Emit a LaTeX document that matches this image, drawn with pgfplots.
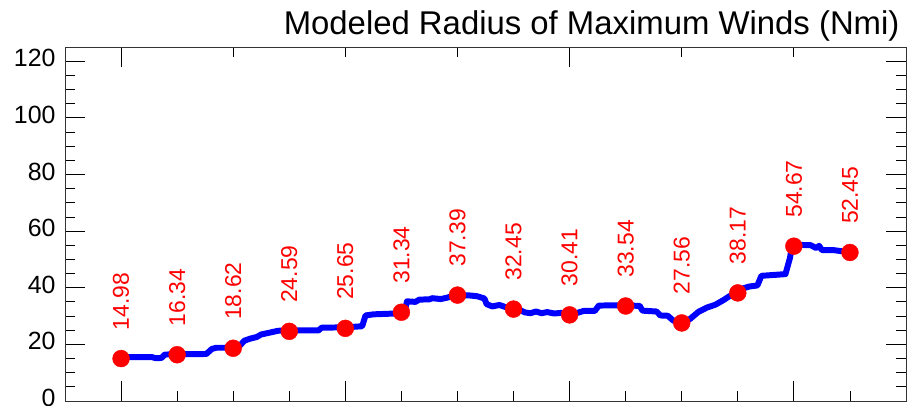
\documentclass[border=0pt]{standalone}
\usepackage{fontspec}
\setmainfont{Liberation Sans}
\usepackage{pgfplots}
\pgfplotsset{compat=1.18}

% modeled RMW track (index along forecast, nmi)
\pgfplotstableread{
x y
0 14.98
0.05 15.5
0.55 15.5
0.62 15.1
0.72 15.2
0.78 16.4
1 16.5
1.52 16.6
1.62 18.4
1.7 18.8
2 18.8
2.12 19.6
2.2 21.3
2.3 22.0
2.42 22.6
2.5 23.5
2.62 24.0
2.8 24.8
3 24.9
3.52 24.9
3.58 25.9
4 26.0
4.3 26.4
4.36 30.2
4.5 30.6
4.9 30.9
5 31.34
5.06 31.6
5.1 35.2
5.25 35.0
5.32 35.8
5.5 35.9
5.55 36.3
5.7 36.0
5.8 36.4
5.9 37.0
6 37.39
6.2 37.3
6.35 37.0
6.48 36.2
6.52 34.2
6.62 33.4
6.75 33.9
6.85 33.2
7 32.45
7.1 32.3
7.2 31.3
7.3 31.0
7.4 31.6
7.5 31.0
7.6 31.4
7.72 30.9
7.85 31.1
8 30.6
8.12 31.0
8.25 31.8
8.45 31.8
8.52 33.7
8.9 33.8
9 33.7
9.25 33.6
9.3 31.9
9.55 31.6
9.62 30.2
9.75 30.1
9.85 28.4
10 27.7
10.15 29.0
10.3 31.5
10.45 33.0
10.6 34.0
10.75 35.7
10.85 37.0
11 38.17
11.1 39.8
11.2 40.4
11.35 40.8
11.42 44.2
11.85 44.8
11.93 50.5
11.97 55.0
12 55.2
12.3 55.0
12.4 54.0
12.45 54.8
12.5 53.3
12.7 53.3
12.85 52.9
13 52.6
}\rmwline

\pgfplotstableread{
x y
0 14.98
1 16.34
2 18.62
3 24.59
4 25.65
5 31.34
6 37.39
7 32.45
8 30.41
9 33.54
10 27.56
11 38.17
12 54.67
13 52.45
}\rmwpts

\begin{document}
\begin{tikzpicture}
\path[use as bounding box] (-65bp,-5bp) rectangle (844bp,401bp);
\begin{axis}[
    name=ax,
    at={(0,0)}, anchor=south west,
    scale only axis,
    width=841bp, height=354bp,
    xmin=-1, xmax=14,
    ymin=0, ymax=125,
    axis line style={black!80, line width=0.9pt},
    xtick={0,4,8,12},
    minor xtick={1,2,3,5,6,7,9,10,11,13},
    xticklabels={},
    xtick pos=left,
    ytick={0,20,...,120},
    minor ytick={5,10,15,25,30,35,45,50,55,65,70,75,85,90,95,105,110,115},
    ytick pos=both,
    major tick length=20bp,
    minor tick length=10bp,
    tick style={black, line width=0.8pt},
    yticklabel style={font=\fontsize{25}{28}\selectfont, xshift=-6bp, yshift=3bp},
    /pgf/number format/assume math mode=true,
    clip=false,
]
\addplot[blue, line width=6pt, line join=round] table[x=x, y=y] {\rmwline};
\addplot[only marks, mark=*, mark size=8.5pt, color=red,
    nodes near coords,
    nodes near coords style={
        red, rotate=90, anchor=west, xshift=25bp,
        font=\fontsize{23}{26}\selectfont,
        /pgf/number format/.cd, fixed, fixed zerofill, precision=2,
        assume math mode=true},
] table[x=x, y=y] {\rmwpts};
\end{axis}
\begin{axis}[
    at={(0,0)}, anchor=south west,
    scale only axis,
    width=841bp, height=354bp,
    xmin=-1, xmax=14,
    ymin=0, ymax=125,
    hide y axis,
    axis line style={black!80, line width=0.9pt},
    xtick={0,8},
    minor xtick={2,4,6,10,12},
    xticklabels={},
    xtick pos=right,
    major tick length=20bp,
    minor tick length=10bp,
    tick style={black, line width=0.8pt},
]
\end{axis}
\node[anchor=base east, font=\fontsize{33}{37}\selectfont] at (838bp,366bp)
    {Modeled Radius of Maximum Winds (Nmi)};
\end{tikzpicture}
\end{document}
